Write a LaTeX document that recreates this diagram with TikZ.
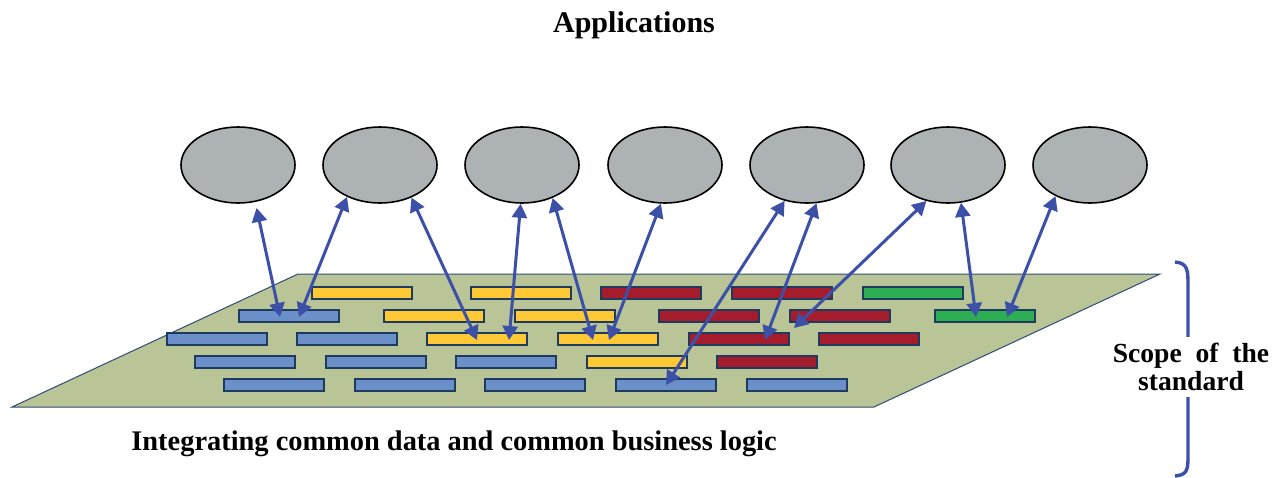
\documentclass[tikz,border=0pt]{standalone}
\usepackage{fontspec}
\setmainfont{Liberation Serif}
\usetikzlibrary{shapes.geometric,arrows.meta,calc}

\definecolor{appgray}{HTML}{ADB2B5}
\definecolor{linkblue}{HTML}{3C50A8}
\definecolor{barline}{HTML}{1F3A5F}
\definecolor{barblue}{HTML}{6B8FC8}
\definecolor{baryellow}{HTML}{FFC936}
\definecolor{barred}{HTML}{A51D2D}
\definecolor{bargreen}{HTML}{2EAE52}
\definecolor{platfill}{HTML}{B9C497}
\definecolor{platline}{HTML}{2F4C74}

\tikzset{
	app/.style={ellipse,draw=black,line width=0.8pt,fill=appgray,minimum width=57pt,minimum height=38pt,inner sep=0pt},
	bar/.style={draw=barline,line width=1pt,fill=#1,minimum width=50pt,minimum height=5.8pt,inner sep=0pt,anchor=west},
	link/.style={{Triangle[width=7.5pt,length=7pt]}-{Triangle[width=7.5pt,length=7pt]},line width=1.5pt,draw=linkblue}
}

\begin{document}
\begin{tikzpicture}[x=0.5pt,y=-0.5pt]
	\useasboundingbox (0,0) rectangle (1288,477);

	% Title
	\node[font=\fontsize{15}{17}\selectfont\bfseries] (title) at (634,25) {Applications};

	% Applications
	\foreach \x [count=\i] in {238,380,522,665,807,948,1090}
		\node[app] (app\i) at (\x,165) {};

	% Platform
	\draw[fill=platfill,draw=platline,line width=0.5pt] (12,407) -- (298,274) -- (1160,274) -- (874,407) -- cycle;

	% Bars, row by row
	\foreach \x/\c [count=\i] in {311/baryellow,470/baryellow,600/barred,731/barred,862/bargreen}
		\node[bar=\c] (r1c\i) at (\x,293) {};
	\foreach \x/\c [count=\i] in {238/barblue,383/baryellow,514/baryellow,658/barred,789/barred,934/bargreen}
		\node[bar=\c] (r2c\i) at (\x,316) {};
	\foreach \x/\c [count=\i] in {166/barblue,296/barblue,426/baryellow,557/baryellow,688/barred,818/barred}
		\node[bar=\c] (r3c\i) at (\x,339) {};
	\foreach \x/\c [count=\i] in {194/barblue,325/barblue,455/barblue,586/baryellow,716/barred}
		\node[bar=\c] (r4c\i) at (\x,362) {};
	\foreach \x/\c [count=\i] in {223/barblue,354/barblue,484/barblue,615/barblue,746/barblue}
		\node[bar=\c] (r5c\i) at (\x,385) {};

	% Links
	\draw[link,shorten <=3pt] (app1.295) -- ($(r2c1.center)+(-9,1)$);
	\draw[link] (app2.224) -- ($(r2c1.center)+(10,1)$);
	\draw[link] (app2.314) -- ($(r3c3.center)+(0,1)$);
	\draw[link] (app3.268) -- ($(r3c3.center)+(32,1)$);
	\draw[link] (app3.313) -- ($(r3c4.center)+(-15,1)$);
	\draw[link] (app4.264) -- ($(r3c4.center)+(1,1)$);
	\draw[link] (app5.238) -- (r5c4.center);
	\draw[link] (app5.284) -- ($(r3c5.center)+(26,1)$);
	\draw[link] (app6.239) -- ($(r3c5.center)+(55,-11)$);
	\draw[link] (app6.289) -- ($(r2c6.center)+(-9,1)$);
	\draw[link] (app7.222) -- ($(r2c6.center)+(22,1)$);

	% Scope bracket
	\draw[linkblue,line width=1.7pt] (1175,262) .. controls (1186,263) and (1188,268) .. (1188,282) -- (1188,458) .. controls (1188,471) and (1186,475) .. (1175,476);
	\node[fill=white,align=center,inner sep=3pt,font=\fontsize{13.8}{14}\selectfont\bfseries] (scope) at (1191,367) {Scope\hspace{0.5em}of\hspace{0.5em}the\\standard};

	% Caption
	\node[anchor=base west,inner sep=0pt,font=\fontsize{14.2}{16}\selectfont\bfseries] (caption) at (131,450) {Integrating common data and common business logic};
\end{tikzpicture}
\end{document}
